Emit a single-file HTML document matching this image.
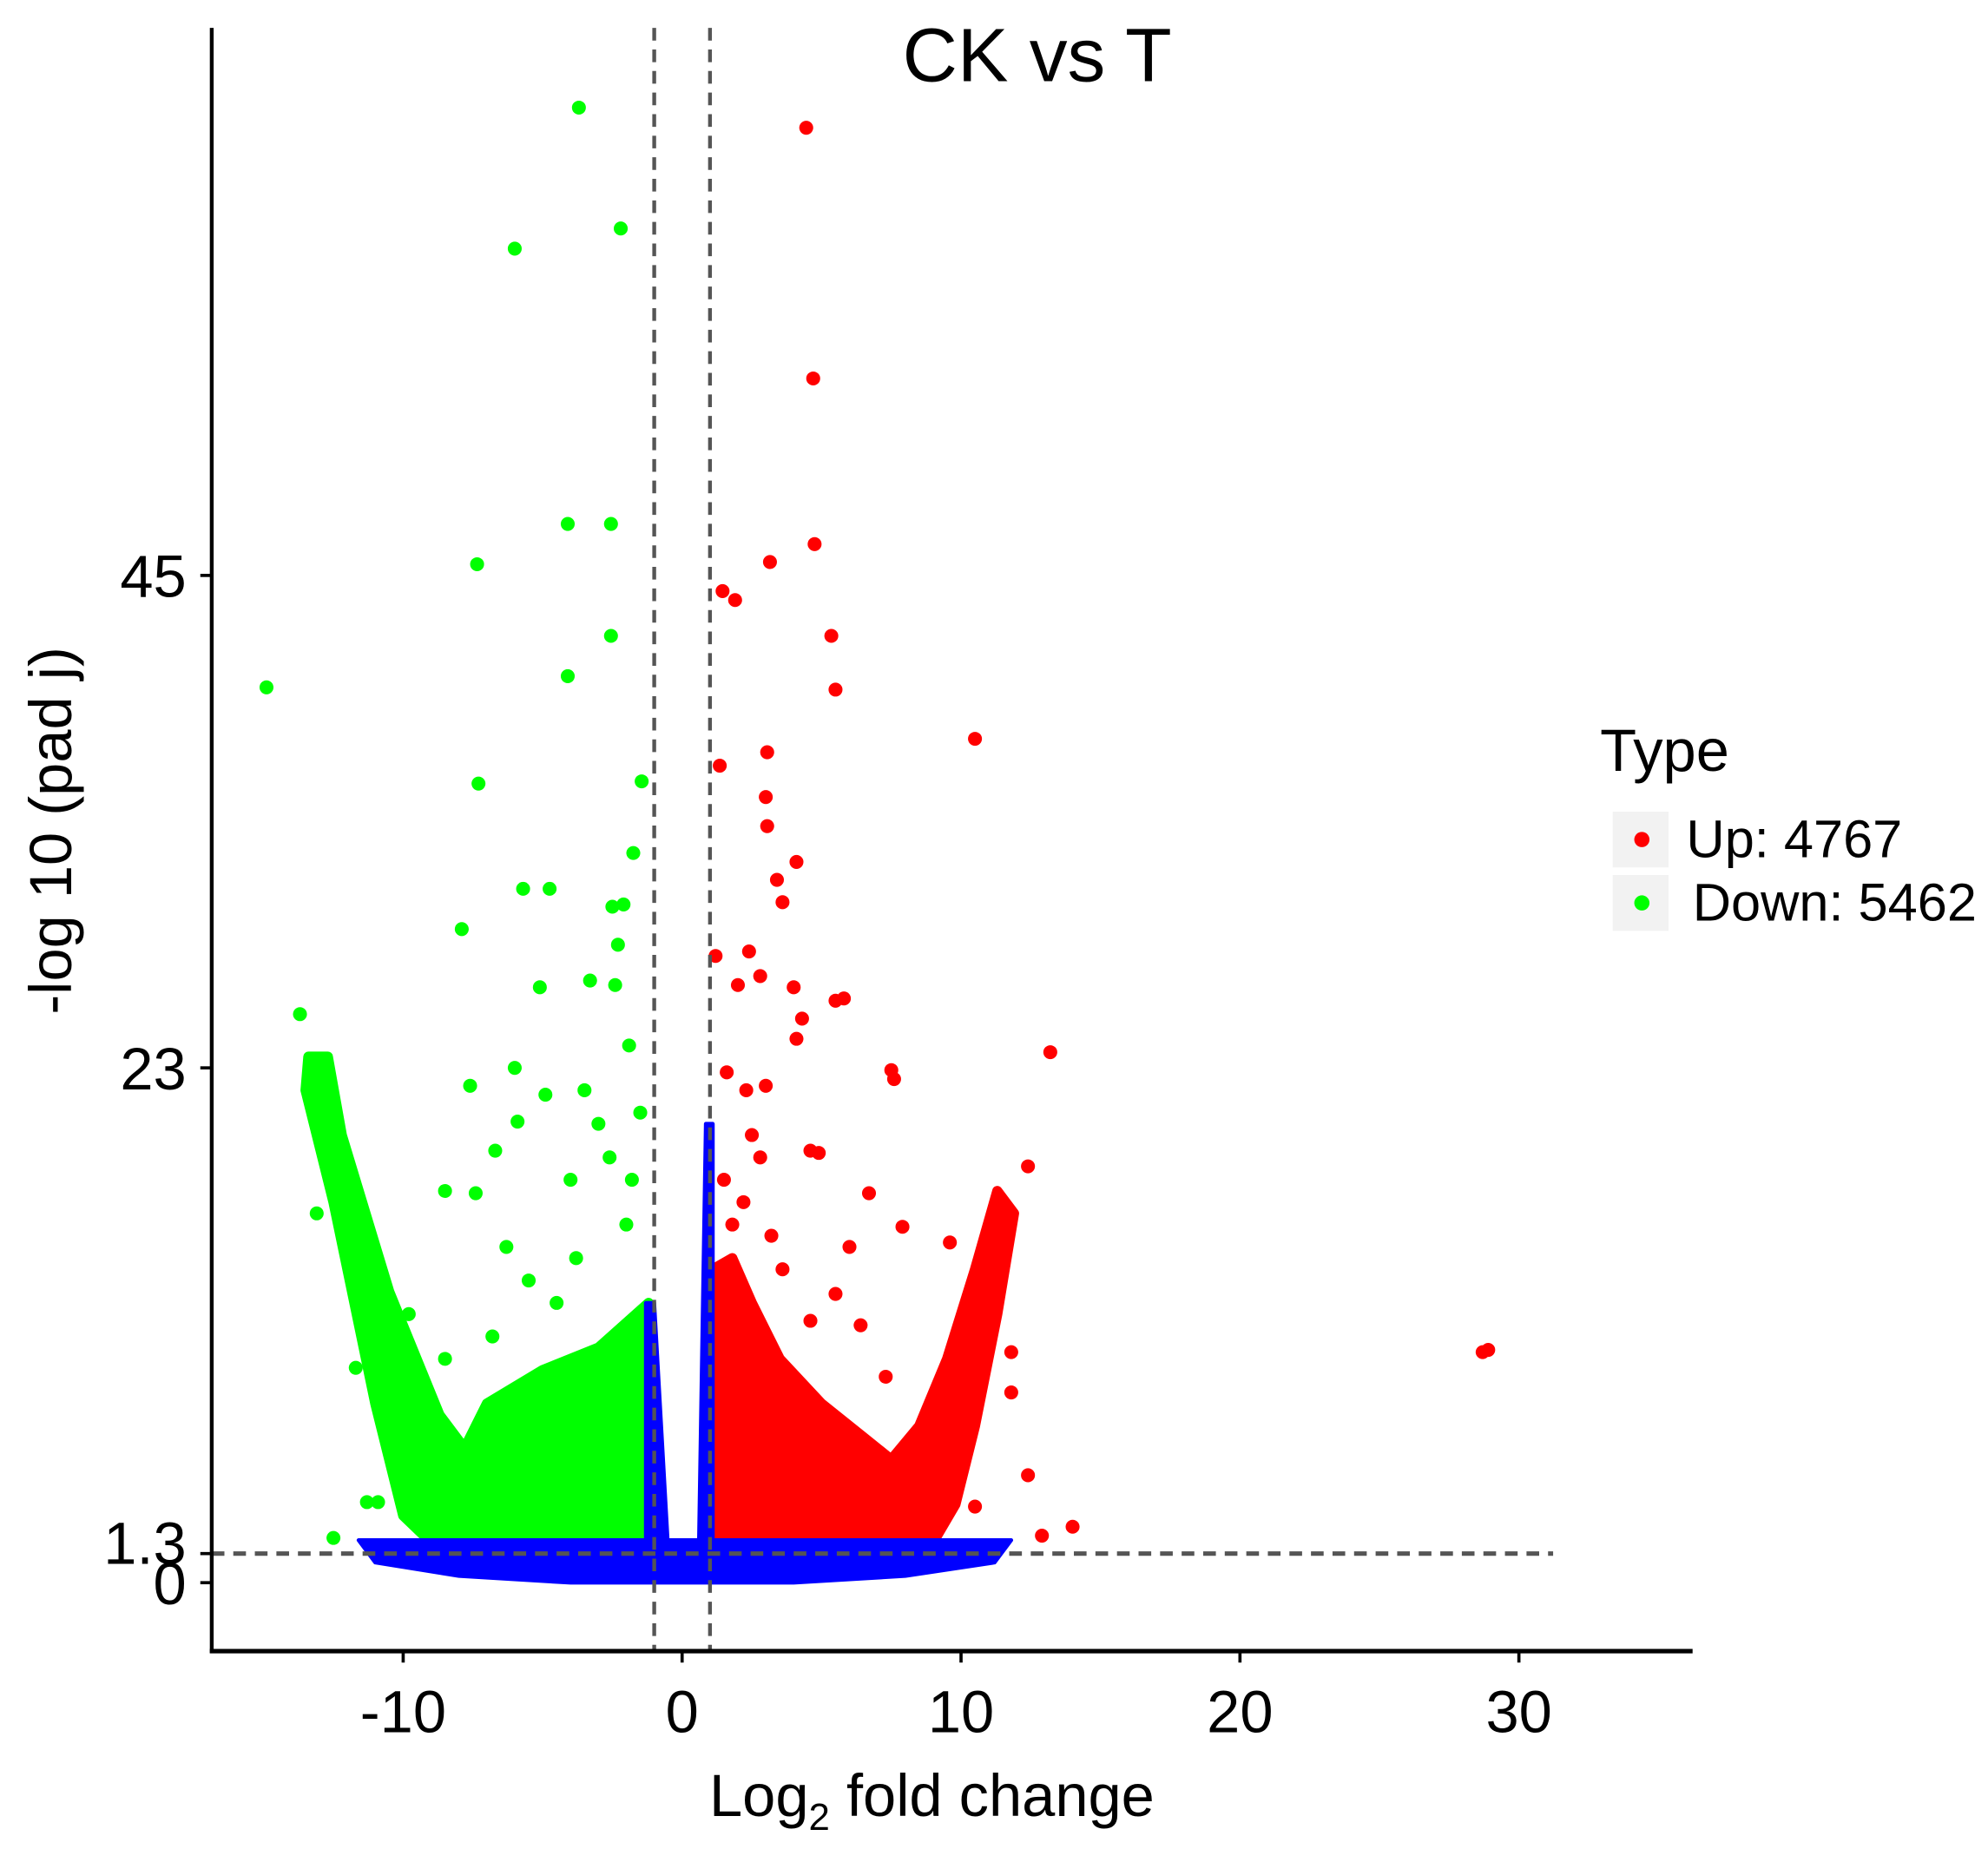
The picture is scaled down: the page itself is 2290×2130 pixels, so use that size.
<!DOCTYPE html>
<html><head><meta charset="utf-8"><style>
html,body{margin:0;padding:0;background:#fff;}
svg{display:block;font-family:"Liberation Sans",Arial,sans-serif;}
</style></head><body>
<svg id="chart" width="2290" height="2130" viewBox="0 0 1568 1458" preserveAspectRatio="none" xmlns="http://www.w3.org/2000/svg">
<rect width="1568" height="1458" fill="#fff"/>
<g id="marks"></g>
<g id="axes"></g>
<text x="818" y="64" font-size="60" text-anchor="middle">CK vs T</text>
<text x="735" y="1432" font-size="47" text-anchor="middle">Log<tspan font-size="30" dy="11">2</tspan><tspan dy="-11"> fold change</tspan></text>
<text transform="translate(56,655) rotate(-90)" font-size="47" text-anchor="middle">-log 10 (pad j)</text>
<g>
<text x="1262" y="608" font-size="47">Type</text>
<rect x="1272" y="640" width="44" height="44" fill="#f2f2f2"/>
<circle cx="1295" cy="662" r="6" fill="#ff0000"/>
<text x="1330" y="665" font-size="42" dominant-baseline="middle">Up: 4767</text>
<rect x="1272" y="690" width="44" height="44" fill="#f2f2f2"/>
<circle cx="1295" cy="712" r="6" fill="#00ff00"/>
<text x="1335" y="715" font-size="42" dominant-baseline="middle">Down: 5462</text>
</g>
</svg>
<script>
const xTicks=[-10,0,10,20,30];
const yTicks=[0,1.3,23,45];
const yTickLabels=["0","1.3","23","45"];
const fcThreshold=[-1,1];
const padjThreshold=1.3;
const greenCloud=[[-13.4,23.5],[-12.7,23.5],[-12.2,20],[-10.5,13],[-8.7,7.5],[-7.8,6],[-7,8],[-5,9.5],[-3,10.5],[-1.2,12.5],[-1.15,1.8],[-9,1.8],[-10,3],[-11,8],[-12.5,17],[-13.5,22]];
const redCloud=[[1.1,1.8],[1.1,14],[1.8,14.5],[2.5,12.5],[3.5,10],[5,8],[6.5,6.5],[7.5,5.5],[8.5,7],[9.5,10],[10.5,14],[11.3,17.5],[11.9,16.5],[11.3,12],[10.5,7],[9.8,3.5],[9,1.8]];
const blueCloud=[[-11.6,1.9],[11.8,1.9],[11.2,0.9],[8,0.3],[4,0],[-4,0],[-8,0.3],[-11,0.9]];
const blueStripLeft=[[-1.3,12.5],[-1,12.5],[-0.5,1.5],[-1.3,1.5]];
const blueStripRight=[[0.6,1.5],[0.85,20.5],[1.1,20.5],[1.1,1.5]];
const downX=[-3.7,-2.2,-6,-4.1,-2.55,-7.35,-2.55,-4.1,-14.9,-7.3,-1.45,-1.75,-5.7,-4.75,-2.1,-2.5,-7.9,-2.3,-13.7,-5.1,-2.4,-7.6,-3.3,-1.9,-4.9,-5.9,-6.7,-8.5,-7.4,-13.1,-11.7,-12.5,-11.3,-10.9,-6,-3.5,-2.6,-4,-6.3,-9.8,-8.5,-3,-1.5,-2,-5.5,-4.5,-1.8,-6.8,-3.8];
const downY=[65.9,60.5,59.6,47.3,47.3,45.5,42.3,40.5,40,35.7,35.8,32.6,31,31,30.3,30.2,29.2,28.5,25.4,26.6,26.7,22.2,26.9,24,21.8,20.6,19.3,17.5,17.4,16.5,9.6,2,3.6,3.6,23,22,19,18,15,12,10,20.5,21,16,13.5,12.5,18,11,14.5];
const upX=[4.45,4.7,4.75,3.15,1.45,1.9,5.35,5.5,10.5,1.35,3.05,3,3.05,4.1,3.4,3.6,1.2,2.4,2,2.8,4,4.3,5.5,5.8,4.1,13.2,7.5,7.6,1.6,2.3,3,12.4,4.6,4.9,6.7,7.9,9.6,11.8,11.8,9.7,10.5,12.4,14,12.9,28.7,28.9,5.5,4.6,6.4,7.3,6,3.6,2.5,1.5,2.2,1.8,3.2,2.8];
const upY=[65,53.8,46.4,45.6,44.3,43.9,42.3,39.9,37.7,36.5,37.1,35.1,33.8,32.2,31.4,30.4,28,28.2,26.7,27.1,26.6,25.2,26,26.1,24.3,23.7,22.9,22.5,22.8,22,22.2,18.6,19.3,19.2,17.4,15.9,15.2,10.3,8.5,5.2,3.4,4.8,2.5,2.1,10.3,10.4,12.9,11.7,11.5,9.2,15,14,20,18,17,16,15.5,19];

const X0=538,KX=22,Y0=1248,KY=17.65;
const L=167,B=1302,R=1335,T=22;
function sx(v){return X0+KX*v;}
function sy(v){return Y0-KY*v;}
const NS="http://www.w3.org/2000/svg";
const marks=document.getElementById('marks');
const axes=document.getElementById('axes');
function mk(tag,attrs,parent){const e=document.createElementNS(NS,tag);for(const k in attrs)e.setAttribute(k,attrs[k]);parent.appendChild(e);return e;}
function poly(pts,color,sw,name){
  const e=mk('polygon',{points:pts.map(p=>sx(p[0])+','+sy(p[1])).join(' '),fill:color,stroke:color,'stroke-width':sw,'stroke-linejoin':'round'},marks);
  
  
}
poly(greenCloud,'#00ff00',8,'down-dense-cloud');
poly(redCloud,'#ff0000',8,'up-dense-cloud');
poly(blueCloud,'#0000ff',3,'nonsig-dense-cloud');
poly(blueStripLeft,'#0000ff',3,'nonsig-strip-left');
poly(blueStripRight,'#0000ff',3,'nonsig-strip-right');
downX.forEach((x,i)=>{
  const c=mk('circle',{cx:sx(x),cy:sy(downY[i]),r:5.5,fill:'#00ff00'},marks);
  
  
});
upX.forEach((x,i)=>{
  const c=mk('circle',{cx:sx(x),cy:sy(upY[i]),r:5.5,fill:'#ff0000'},marks);
  
  
});
fcThreshold.forEach(v=>{
  const l=mk('line',{x1:sx(v),x2:sx(v),y1:T,y2:B,stroke:'#555','stroke-width':3,'stroke-dasharray':'10,7'},marks);
  
  
});
const hl=mk('line',{x1:L,x2:1225,y1:sy(padjThreshold),y2:sy(padjThreshold),stroke:'#555','stroke-width':3.5,'stroke-dasharray':'10,7'},marks);


const ya=mk('line',{x1:L,x2:L,y1:T,y2:B+1.5,stroke:'#000','stroke-width':3},axes);


const xa=mk('line',{x1:L-1.5,x2:R,y1:B,y2:B,stroke:'#000','stroke-width':3.5},axes);


xTicks.forEach(v=>{
  const t=mk('line',{x1:sx(v),x2:sx(v),y1:B,y2:B+9,stroke:'#000','stroke-width':2.5},axes);
  
  
  const tx=mk('text',{x:sx(v),y:1366,'font-size':47,'text-anchor':'middle'},axes);
  tx.textContent=v<0?'-'+Math.abs(v):String(v);
  
  
});
yTicks.forEach((v,i)=>{
  const t=mk('line',{x1:L-9,x2:L,y1:sy(v),y2:sy(v),stroke:'#000','stroke-width':2.5},axes);
  
  
  const tx=mk('text',{x:L-20,y:sy(v)+(v===1.3?8:17),'font-size':47,'text-anchor':'end'},axes);
  tx.textContent=yTickLabels[i];
  
  
});
</script>
</body></html>
